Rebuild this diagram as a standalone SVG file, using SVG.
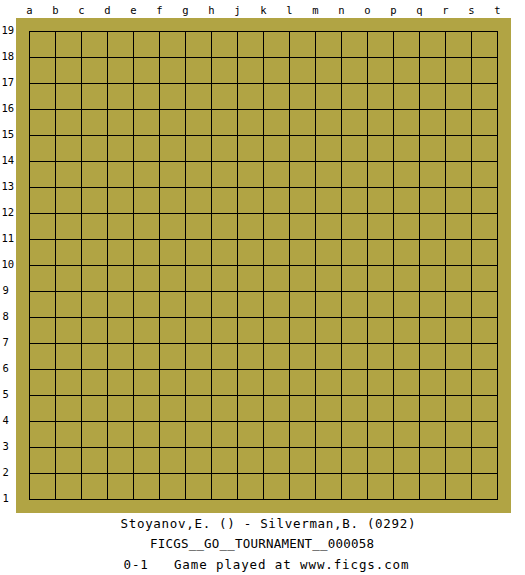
<svg xmlns="http://www.w3.org/2000/svg" width="525" height="575" viewBox="0 0 525 575">
<style>
.lbl{font-family:"DejaVu Sans Mono","Liberation Mono",monospace;font-size:10.5px;fill:#000}
.col{text-anchor:middle}
.info{font-family:"DejaVu Sans Mono","Liberation Mono",monospace;font-size:12.5px;fill:#000;text-anchor:middle}
.grid{stroke:#000;stroke-width:1;fill:none}
</style>
<rect x="0" y="0" width="525" height="575" fill="#ffffff"/>
<g id="board">
<rect x="16" y="18" width="495" height="495" fill="#B1A444"/>
<path class="grid" d="M29.5 31V499 M55.5 31V499 M81.5 31V499 M107.5 31V499 M133.5 31V499 M159.5 31V499 M185.5 31V499 M211.5 31V499 M237.5 31V499 M263.5 31V499 M289.5 31V499 M315.5 31V499 M341.5 31V499 M367.5 31V499 M393.5 31V499 M419.5 31V499 M445.5 31V499 M471.5 31V499 M497.5 31V499 M29 31.5H498 M29 57.5H498 M29 83.5H498 M29 109.5H498 M29 135.5H498 M29 161.5H498 M29 187.5H498 M29 213.5H498 M29 239.5H498 M29 265.5H498 M29 291.5H498 M29 317.5H498 M29 343.5H498 M29 369.5H498 M29 395.5H498 M29 421.5H498 M29 447.5H498 M29 473.5H498 M29 499.5H498"/>
</g>
<g id="columns" class="lbl col">
<text x="29.5" y="13.5">a</text><text x="55.5" y="13.5">b</text><text x="81.5" y="13.5">c</text><text x="107.5" y="13.5">d</text><text x="133.5" y="13.5">e</text><text x="159.5" y="13.5">f</text><text x="185.5" y="13.5">g</text><text x="211.5" y="13.5">h</text><text x="237.5" y="13.5">j</text><text x="263.5" y="13.5">k</text><text x="289.5" y="13.5">l</text><text x="315.5" y="13.5">m</text><text x="341.5" y="13.5">n</text><text x="367.5" y="13.5">o</text><text x="393.5" y="13.5">p</text><text x="419.5" y="13.5">q</text><text x="445.5" y="13.5">r</text><text x="471.5" y="13.5">s</text><text x="497.5" y="13.5">t</text>
</g>
<g id="rows" class="lbl">
<text x="1.5" y="33.5">19</text><text x="1.5" y="59.5">18</text><text x="1.5" y="85.5">17</text><text x="1.5" y="111.5">16</text><text x="1.5" y="137.5">15</text><text x="1.5" y="163.5">14</text><text x="1.5" y="189.5">13</text><text x="1.5" y="215.5">12</text><text x="1.5" y="241.5">11</text><text x="1.5" y="267.5">10</text><text x="2.5" y="293.5">9</text><text x="2.5" y="319.5">8</text><text x="2.5" y="345.5">7</text><text x="2.5" y="371.5">6</text><text x="2.5" y="397.5">5</text><text x="2.5" y="423.5">4</text><text x="2.5" y="449.5">3</text><text x="2.5" y="475.5">2</text><text x="2.5" y="501.5">1</text>
</g>
<g id="info">
<text class="info" x="268" y="528" textLength="295" lengthAdjust="spacing">Stoyanov,E. () - Silverman,B. (0292)</text>
<text class="info" x="262" y="548" textLength="224" lengthAdjust="spacing">FICGS__GO__TOURNAMENT__000058</text>
<text class="info" x="266" y="569" textLength="285" lengthAdjust="spacing" xml:space="preserve">0-1   Game played at www.ficgs.com</text>
</g>
</svg>
